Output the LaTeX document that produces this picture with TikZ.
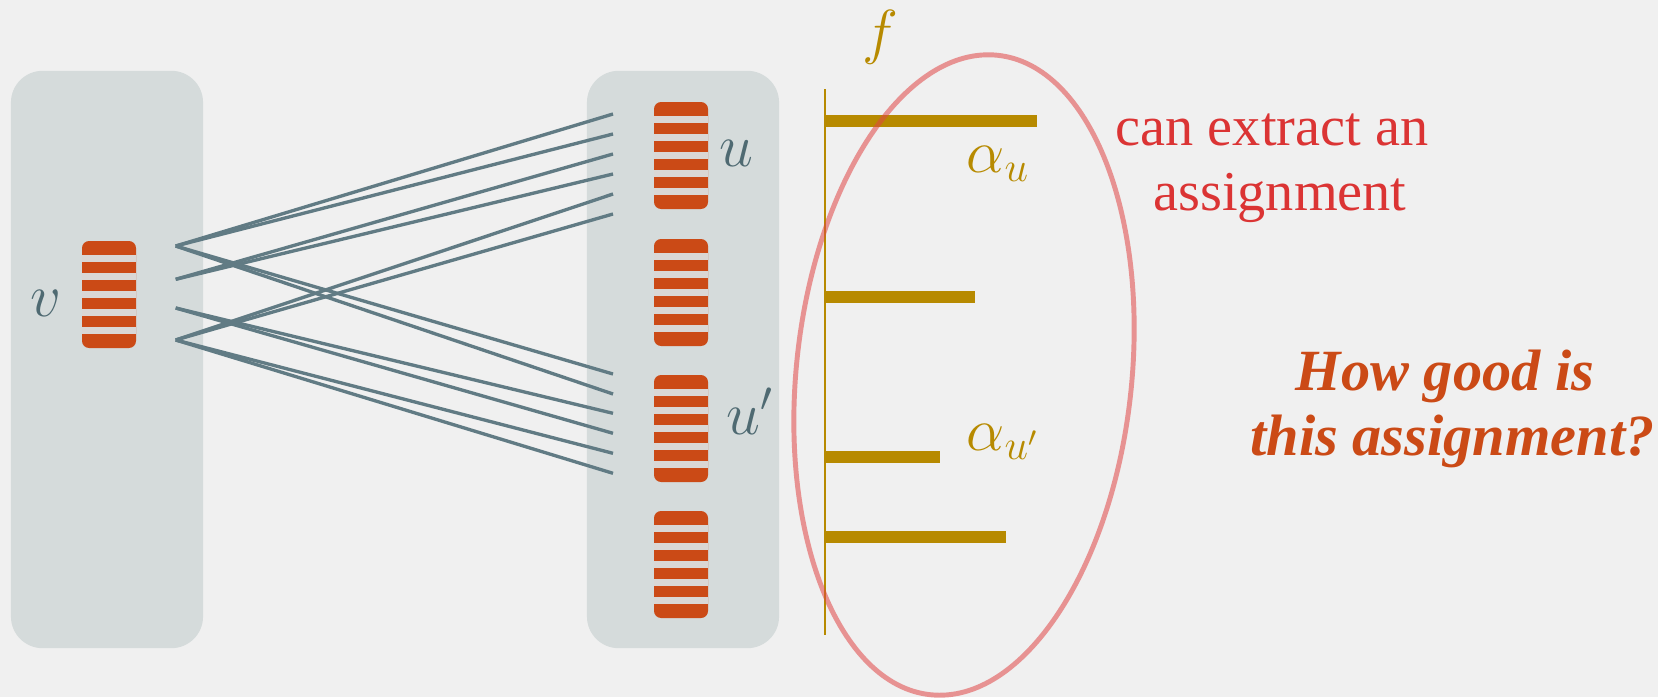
\documentclass[tikz,border=0pt]{standalone}
\usepackage{fontspec}
\setmainfont{Liberation Serif}
\definecolor{bg}{HTML}{F0F0F0}
\definecolor{boxgray}{HTML}{D5DBDB}
\definecolor{blockred}{HTML}{CB4A16}
\definecolor{gapgray}{HTML}{DAD7D5}
\definecolor{slate}{HTML}{617B84}
\definecolor{labelslate}{HTML}{4F6A72}
\definecolor{gold}{HTML}{B78A00}
\definecolor{ellred}{HTML}{E04545}
\definecolor{textred}{HTML}{DB3434}
\definecolor{qorange}{HTML}{CB4A16}
\begin{document}
\begin{tikzpicture}[x=0.01cm,y=-0.01cm,
  panel/.style={fill=boxgray, rounded corners=9pt, minimum width=1.92cm, minimum height=5.77cm, inner sep=0pt},
  edge/.style={slate, line width=0.95pt},
  mlabel/.style={labelslate, inner sep=0pt, font=\fontsize{17}{20}\selectfont},
  glabel/.style={gold, inner sep=0pt, font=\fontsize{17}{20}\selectfont},
  bar/.style={fill=gold},
  redtext/.style={textred, inner sep=0pt, anchor=base, font=\fontsize{16}{19}\selectfont},
  qtext/.style={qorange, inner sep=0pt, anchor=base, font=\fontsize{16.6}{19}\selectfont\bfseries\itshape},
  stripeblock/.pic={
    \fill[blockred, rounded corners=2pt] (0,0) rectangle (54,107);
    \foreach \k in {0,...,4} {\fill[gapgray] (0,14.3+18*\k) rectangle (54,20.6+18*\k);}
  }]
\fill[bg] (0,0) rectangle (1658,697);
\useasboundingbox (0,0) rectangle (1658,697);

% panels
\node[panel] (leftpanel) at (107,359.5) {};
\node[panel] (rightpanel) at (683,359.5) {};

% blocks
\pic at (82,241) {stripeblock};
\pic at (654,102) {stripeblock};
\pic at (654,239) {stripeblock};
\pic at (654,375) {stripeblock};
\pic at (654,511) {stripeblock};

% labels
\node[mlabel] (v) at (46,303) {$v$};
\node[mlabel] (u) at (736,153) {$u$};
\node[mlabel, anchor=base west] (up) at (726,434) {$u'$};

% connector end points
\coordinate (L1) at (175.7,246);
\coordinate (L2) at (175.7,279.3);
\coordinate (L3) at (175.7,308);
\coordinate (L4) at (175.7,340);
\coordinate (T1) at (613,114);
\coordinate (T2) at (613,134);
\coordinate (T3) at (613,154);
\coordinate (T4) at (613,174);
\coordinate (T5) at (613,194);
\coordinate (T6) at (613,214);
\coordinate (B1) at (613,374);
\coordinate (B2) at (613,394);
\coordinate (B3) at (613,413.3);
\coordinate (B4) at (613,433.3);
\coordinate (B5) at (613,453.3);
\coordinate (B6) at (613,473.3);

\draw[edge] (L1) -- (T1);
\draw[edge] (L1) -- (T2);
\draw[edge] (L1) -- (B1);
\draw[edge] (L1) -- (B2);
\draw[edge] (L2) -- (T3);
\draw[edge] (L2) -- (T4);
\draw[edge] (L3) -- (B3);
\draw[edge] (L3) -- (B4);
\draw[edge] (L4) -- (T5);
\draw[edge] (L4) -- (T6);
\draw[edge] (L4) -- (B5);
\draw[edge] (L4) -- (B6);

% f axis and bars
\coordinate (ftop) at (825,89);
\coordinate (fbot) at (825,635);
\draw[gold, line width=0.7pt] (ftop) -- (fbot);
\fill[bar] (826,114.8) rectangle (1036.7,126.8);
\fill[bar] (826,290.7) rectangle (975,302.7);
\fill[bar] (826,450.7) rectangle (940,462.7);
\fill[bar] (826,530.7) rectangle (1005.7,542.7);

\node[glabel] (f) at (880,37.5) {$f$};
\node[glabel, anchor=base west] (au) at (966,172) {$\alpha_u$};
\node[glabel, anchor=base west] (aup) at (966,450) {$\alpha_{u'}$};

% ellipse
\draw[ellred, draw opacity=0.55, line width=1.4pt, rotate around={-6:(964,375)}] (964,375) ellipse [x radius=1.676cm, y radius=3.213cm];

% texts
\node[redtext] (t1) at (1272,145) {can extract an};
\node[redtext] (t2) at (1280,210) {assignment};
\node[qtext] (q1) at (1445,390.7) {How good is};
\node[qtext] (q2) at (1452.5,455) {this assignment?};
\end{tikzpicture}
\end{document}
